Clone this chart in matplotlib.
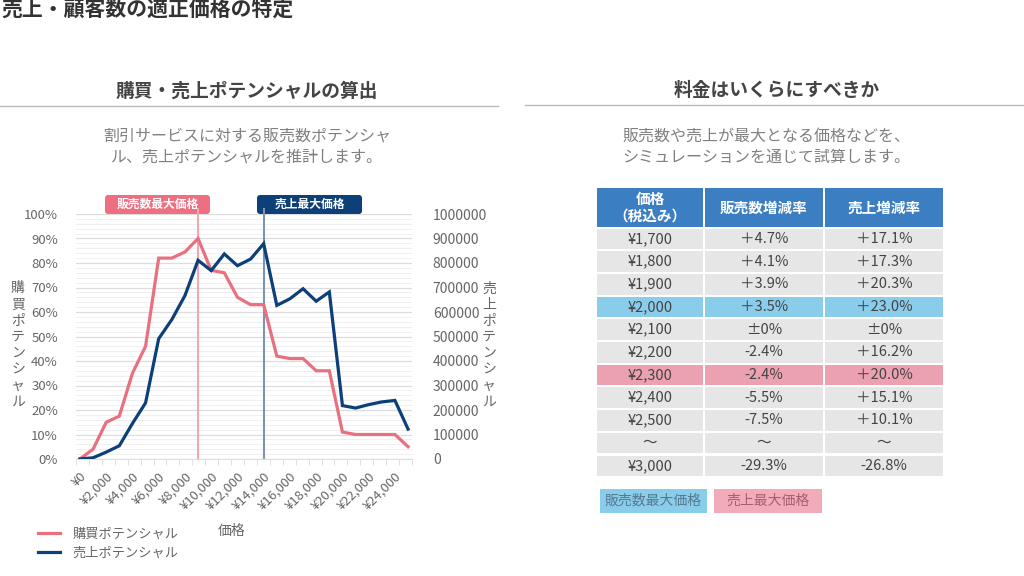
import numpy as np
import matplotlib
matplotlib.use("Agg")
import matplotlib.pyplot as plt
from matplotlib.patches import Rectangle, FancyBboxPatch

plt.rcParams['font.family'] = ['Noto Sans CJK JP', 'DejaVu Sans']

# ---- data -------------------------------------------------------------
prices_k = list(range(26))  # ¥0 .. ¥25,000 step 1,000
purchase_pct = [0, 4, 15, 17.5, 35, 46, 82, 82, 84.5, 90, 77, 76, 66, 63,
                63, 42, 41, 41, 36, 36, 11, 10, 10, 10, 10, 5]
sales_pot = [0, 5000, 28000, 54000, 145000, 229000, 491000, 569000, 667000,
             811000, 769000, 837000, 789000, 816000, 879000, 627000, 654000,
             695000, 644000, 682000, 218000, 208000, 222000, 233000, 239000,
             122000]
x_tick_labels = ['¥0', '¥2,000', '¥4,000', '¥6,000', '¥8,000', '¥10,000',
                 '¥12,000', '¥14,000', '¥16,000', '¥18,000', '¥20,000',
                 '¥22,000', '¥24,000']
max_sales_idx = 9      # 販売数最大価格
max_revenue_idx = 14   # 売上最大価格

tbl_header = ['価格\n（税込み）', '販売数増減率', '売上増減率']
tbl_price = ['¥1,700', '¥1,800', '¥1,900', '¥2,000', '¥2,100', '¥2,200',
             '¥2,300', '¥2,400', '¥2,500', '～', '¥3,000']
tbl_sales = ['＋4.7%', '＋4.1%', '＋3.9%', '＋3.5%', '±0%', '-2.4%', '-2.4%',
             '-5.5%', '-7.5%', '～', '-29.3%']
tbl_revenue = ['＋17.1%', '＋17.3%', '＋20.3%', '＋23.0%', '±0%', '＋16.2%',
               '＋20.0%', '＋15.1%', '＋10.1%', '～', '-26.8%']
tbl_highlight = {3: 'blue', 6: 'pink'}

# ---- colours ----------------------------------------------------------
PINK = '#E8707F'
NAVY = '#0D3F78'
GRAY_TXT = '#666666'
HEAD_BLUE = '#3C7EC2'
ROW_GRAY = '#E6E6E6'
HL_BLUE = '#8ACDEB'
HL_PINK = '#EBA1B0'

W, H = 1024, 576
fig = plt.figure(figsize=(W / 100, H / 100), dpi=100)
fig.patch.set_facecolor('white')


def rect(x, y, w, h):
    return [x / W, 1 - (y + h) / H, w / W, h / H]


# overlay axes in pixel coordinates for headings and the table
ov = fig.add_axes([0, 0, 1, 1])
ov.set_xlim(0, W)
ov.set_ylim(H, 0)
ov.axis('off')

ov.text(1, 10, '売上・顧客数の適正価格の特定', fontsize=15, fontweight='bold',
        color='#333333', ha='left', va='center')

ov.text(247, 91, '購買・売上ポテンシャルの算出', fontsize=13.5,
        fontweight='bold', color='#444444', ha='center', va='center')
ov.plot([0, 498], [106, 106], color='#BBBBBB', lw=1)
ov.text(247, 147, '割引サービスに対する販売数ポテンシャ\nル、売上ポテンシャルを推計します。',
        fontsize=11.5, color='#808080', ha='center', va='center',
        linespacing=1.3)

ov.text(777, 90, '料金はいくらにすべきか', fontsize=13.5, fontweight='bold',
        color='#444444', ha='center', va='center')
ov.plot([525, W], [104.5, 104.5], color='#BBBBBB', lw=1)
ov.text(766, 147, '販売数や売上が最大となる価格などを、\nシミュレーションを通じて試算します。',
        fontsize=11.5, color='#808080', ha='center', va='center',
        linespacing=1.3)

# ---- table ------------------------------------------------------------
col_x = [597, 705, 825]
col_w = [106, 118, 118]
head_top, head_h = 188, 39
row_h = 22.7
for c in range(3):
    ov.add_patch(Rectangle((col_x[c], head_top), col_w[c], head_h,
                           facecolor=HEAD_BLUE, edgecolor='none'))
    ov.text(col_x[c] + col_w[c] / 2, head_top + head_h / 2, tbl_header[c],
            fontsize=10.5, fontweight='bold', color='white', ha='center',
            va='center', linespacing=1.05)
for r in range(len(tbl_price)):
    y0 = head_top + head_h + 1.5 + r * row_h
    kind = tbl_highlight.get(r)
    fc = HL_BLUE if kind == 'blue' else HL_PINK if kind == 'pink' else ROW_GRAY
    vals = [tbl_price[r], tbl_sales[r], tbl_revenue[r]]
    for c in range(3):
        ov.add_patch(Rectangle((col_x[c], y0), col_w[c], row_h - 2,
                               facecolor=fc, edgecolor='none'))
        ov.text(col_x[c] + col_w[c] / 2, y0 + (row_h - 2) / 2, vals[c],
                fontsize=10.5, color='#444444', ha='center', va='center')

ov.add_patch(Rectangle((600, 489), 107, 24, facecolor=HL_BLUE,
                       edgecolor='none'))
ov.text(653.5, 501, '販売数最大価格', fontsize=10, color='#557890',
        ha='center', va='center')
ov.add_patch(Rectangle((714, 489), 108, 24, facecolor='#F2ABB8',
                       edgecolor='none'))
ov.text(768, 501, '売上最大価格', fontsize=10, color='#A5606E',
        ha='center', va='center')

# ---- chart ------------------------------------------------------------
ax = fig.add_axes(rect(76, 214, 336, 245))
ax.set_facecolor('none')
ax.set_xlim(-0.3, 25.3)
ax.set_ylim(0, 100)
ax.set_yticks(np.arange(0, 101, 10))
ax.set_yticks(np.arange(0, 101, 2), minor=True)
ax.set_yticklabels([f'{v}%' for v in range(0, 101, 10)])
ax.grid(axis='y', which='major', color='#DDDDDD', lw=0.9)
ax.grid(axis='y', which='minor', color='#F0F0F0', lw=0.7)
ax.set_axisbelow(True)
for s in ax.spines.values():
    s.set_visible(False)
ax.spines['bottom'].set_visible(True)
ax.spines['bottom'].set_color('#DDDDDD')
ax.tick_params(axis='y', which='both', length=0, labelsize=9.5,
               labelcolor=GRAY_TXT, pad=13)
ax.set_xticks(prices_k[::2])
ax.set_xticklabels(x_tick_labels, rotation=45, ha='right',
                   rotation_mode='anchor')
ax.set_xticks(np.linspace(-0.3, 25.3, 27), minor=True)
ax.tick_params(axis='x', which='major', length=0, labelsize=9.5,
               labelcolor=GRAY_TXT, pad=8)
ax.tick_params(axis='x', which='minor', length=4, color='#DDDDDD')

ax.axvline(max_sales_idx, ymax=1.02, color='#F2A7B1', lw=1.5, zorder=1,
           clip_on=False)
ax.axvline(max_revenue_idx, ymax=1.02, color='#7F95AD', lw=1.5, zorder=1,
           clip_on=False)

ax2 = ax.twinx()
ax2.set_ylim(0, 1000000)
ax2.set_yticks(np.arange(0, 1000001, 100000))
ax2.set_yticklabels([str(v) for v in range(0, 1000001, 100000)])
ax2.tick_params(axis='y', length=0, labelsize=10, labelcolor=GRAY_TXT,
                pad=15)
for s in ax2.spines.values():
    s.set_visible(False)

l1, = ax.plot(prices_k, purchase_pct, color=PINK, lw=2.3, zorder=3,
              solid_joinstyle='miter')
l2, = ax2.plot(prices_k, sales_pot, color=NAVY, lw=2.3, zorder=3,
               solid_joinstyle='miter')

# marker labels above the plot
ov.add_patch(FancyBboxPatch((105, 195), 105, 19,
                            boxstyle='round,pad=0,rounding_size=3',
                            fc='#EE6F82', ec='none', zorder=4))
ov.text(157.5, 204.5, '販売数最大価格', fontsize=8.5, fontweight='bold',
        color='white', ha='center', va='center', zorder=5)
ov.add_patch(FancyBboxPatch((257, 195), 105, 19,
                            boxstyle='round,pad=0,rounding_size=3',
                            fc=NAVY, ec='none', zorder=4))
ov.text(309.5, 204.5, '売上最大価格', fontsize=8.5, fontweight='bold',
        color='white', ha='center', va='center', zorder=5)

ov.text(18, 345, '\n'.join('購買ポテンシャル'), fontsize=10, color=GRAY_TXT,
        ha='center', va='center', linespacing=1.2)
ov.text(489, 345, '\n'.join('売上ポテンシャル'), fontsize=10, color=GRAY_TXT,
        ha='center', va='center', linespacing=1.2)
ov.text(232, 531, '価格', fontsize=10, color=GRAY_TXT, ha='center',
        va='center')

fig.legend([l1, l2], ['購買ポテンシャル', '売上ポテンシャル'],
           loc='upper left', bbox_to_anchor=(26 / W, 1 - 516 / H),
           frameon=False, fontsize=9.5, labelcolor=GRAY_TXT,
           handlelength=1.7, handletextpad=0.9, labelspacing=0.45)

fig.savefig('out.png', dpi=100)
